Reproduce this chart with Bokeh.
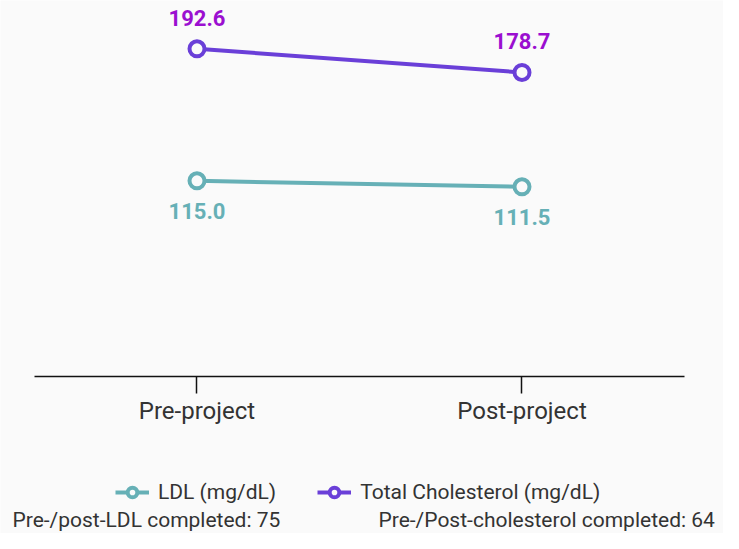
from bokeh.plotting import figure
from bokeh.models import ColumnDataSource, Range1d, Legend, LegendItem, Label, FixedTicker
from bokeh.core.properties import value
from bokeh.embed import file_html
from bokeh.resources import INLINE

periods = ["Pre-project", "Post-project"]
ldl = [115.0, 111.5]
total_chol = [192.6, 178.7]
series_names = ["LDL (mg/dL)", "Total Cholesterol (mg/dL)"]
footnotes = ["Pre-/post-LDL completed: 75", "Pre-/Post-cholesterol completed: 64"]

BG = "#fafafa"
LDL_C = "#66b0b6"
TC_C = "#6a3fd8"
TC_LABEL = "#9b0fd0"
FONT = "Roboto"

idx = list(range(len(periods)))

p = figure(width=723, height=533,
           x_range=Range1d(-0.6046, 1.62), y_range=Range1d(-92.3, 221.0),
           output_backend="svg", toolbar_location=None,
           min_border_left=0, min_border_right=0, min_border_top=0, min_border_bottom=0,
           background_fill_color=BG, border_fill_color=BG, outline_line_color=None)
p.yaxis.visible = False
p.grid.visible = False

src_ldl = ColumnDataSource(dict(x=idx, y=ldl, t=["%.1f" % v for v in ldl]))
src_tc = ColumnDataSource(dict(x=idx, y=total_chol, t=["%.1f" % v for v in total_chol]))

l1 = p.line("x", "y", source=src_ldl, line_color=LDL_C, line_width=4)
s1 = p.scatter("x", "y", source=src_ldl, size=15, line_color=LDL_C, line_width=4, fill_color=BG)
l2 = p.line("x", "y", source=src_tc, line_color=TC_C, line_width=4)
s2 = p.scatter("x", "y", source=src_tc, size=15, line_color=TC_C, line_width=4, fill_color=BG)

p.text("x", "y", text="t", source=src_ldl, y_offset=30, text_align="center", text_baseline="middle",
       text_font=value(FONT), text_font_style="bold", text_font_size="22px", text_color=LDL_C)
p.text("x", "y", text="t", source=src_tc, y_offset=-31, text_align="center", text_baseline="middle",
       text_font=value(FONT), text_font_style="bold", text_font_size="22px", text_color=TC_LABEL)

ax = p.xaxis[0]
ax.fixed_location = 0
ax.bounds = (-0.5, len(periods) - 0.5)
ax.ticker = FixedTicker(ticks=idx)
ax.major_label_overrides = {i: name for i, name in zip(idx, periods)}
ax.minor_tick_line_color = None
ax.axis_line_color = "#111111"
ax.axis_line_width = 1.5
ax.major_tick_line_color = "#111111"
ax.major_tick_line_width = 1.5
ax.major_tick_in = 0
ax.major_tick_out = 17
ax.major_label_standoff = 4
ax.major_label_text_font = FONT
ax.major_label_text_font_size = "24px"
ax.major_label_text_color = "#333333"

legend = Legend(items=[LegendItem(label=series_names[0], renderers=[l1, s1]),
                       LegendItem(label=series_names[1], renderers=[l2, s2])],
                orientation="horizontal", location=(115, 29), padding=0, margin=0,
                spacing=41, label_standoff=9, glyph_width=34, glyph_height=24,
                border_line_color=None, background_fill_alpha=0,
                label_text_font=FONT, label_text_font_size="21px", label_text_color="#333333")
p.add_layout(legend, "center")

p.add_layout(Label(x=-0.5677, y=-91.5, text=footnotes[0], text_align="left", text_baseline="bottom",
                   text_font=FONT, text_font_size="21px", text_color="#333333"))
p.add_layout(Label(x=0.5585, y=-91.5, text=footnotes[1], text_align="left", text_baseline="bottom",
                   text_font=FONT, text_font_size="21px", text_color="#333333"))

open("out.html", "w").write(file_html(p, INLINE))
